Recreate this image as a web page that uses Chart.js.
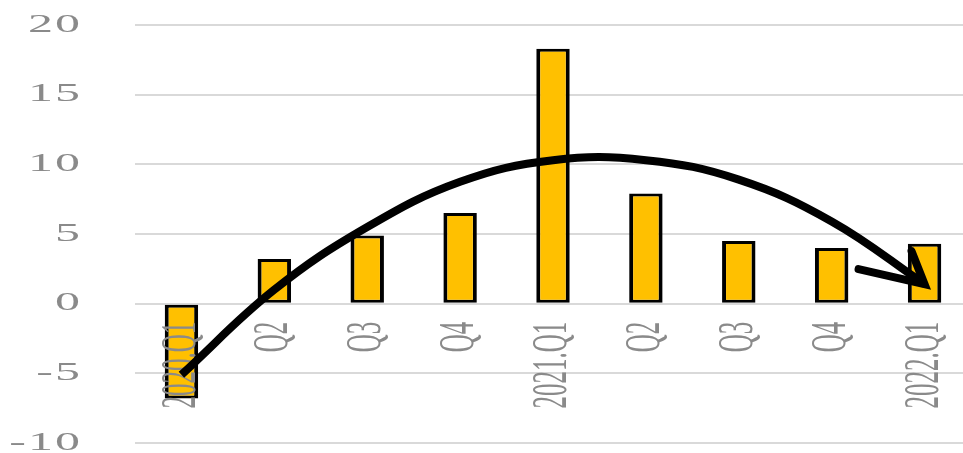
<!DOCTYPE html>
<html>
<head>
<meta charset="utf-8">
<script src="https://cdn.jsdelivr.net/npm/chart.js@4/dist/chart.umd.min.js"></script>
<style>
    body { margin: 0; background: #fff; overflow: hidden; }
    #wrap { width: 975px; height: 453px; position: relative; }
</style>
</head>
<body>
<div id="wrap"><canvas id="grafico"></canvas></div>
<script>
const categories = ['2020.Q1', 'Q2', 'Q3', 'Q4', '2021.Q1', 'Q2', 'Q3', 'Q4', '2022.Q1'];
const growthValues = [-6.8, 3.2, 4.9, 6.5, 18.3, 7.9, 4.5, 4.0, 4.3];
const trendCurve = [-5.1, 1.0, 5.5, 8.75, 10.3, 10.3, 8.9, 5.9, 1.4];
const yTicks = [-10, -5, 0, 5, 10, 15, 20];

const textColor = '#8a8a8a';
const stretch = 2.0; // the source image is wide-stretched

// y tick labels, drawn stretched
const yLabels = {
    id: 'yLabels',
    afterDraw(chart) {
        const ctx = chart.ctx;
        const y = chart.scales.y;
        ctx.save();
        ctx.fillStyle = textColor;
        ctx.font = '25px "Liberation Serif"';
        ctx.letterSpacing = '1px';
        ctx.textAlign = 'right';
        ctx.textBaseline = 'middle';
        yTicks.forEach(function (v) {
            ctx.save();
            ctx.translate(82, y.getPixelForValue(v));
            ctx.scale(stretch, 1);
            ctx.fillText(String(v), 0, 0);
            ctx.restore();
        });
        ctx.restore();
    }
};

// category labels, rotated, hanging under the zero line
const xLabels = {
    id: 'xLabels',
    afterDatasetDraw(chart, args) {
        if (args.index !== 0) return;
        const ctx = chart.ctx;
        const x = chart.scales.x;
        const y0 = chart.scales.y.getPixelForValue(0) + 18;
        ctx.save();
        ctx.fillStyle = textColor;
        ctx.font = '25px "Liberation Serif"';
        ctx.textAlign = 'right';
        ctx.textBaseline = 'middle';
        categories.forEach(function (c, i) {
            ctx.save();
            ctx.translate(x.getPixelForValue(i), y0);
            ctx.scale(stretch, 1);
            ctx.rotate(-Math.PI / 2);
            ctx.fillText(c, 0, 0);
            ctx.restore();
        });
        ctx.restore();
    }
};

// arrow head at the end of the trend curve
const arrowHead = {
    id: 'arrowHead',
    afterDatasetsDraw(chart) {
        const pts = chart.getDatasetMeta(1).data;
        const tip = pts[pts.length - 1];
        const ctx = chart.ctx;
        ctx.save();
        ctx.strokeStyle = '#000';
        ctx.lineWidth = 8;
        ctx.lineCap = 'round';
        ctx.beginPath();
        ctx.moveTo(tip.x - 66, tip.y - 15);
        ctx.lineTo(tip.x, tip.y);
        ctx.lineTo(tip.x - 13, tip.y - 33);
        ctx.stroke();
        ctx.restore();
    }
};

const grafico = new Chart(document.getElementById('grafico').getContext('2d'), {
    type: 'bar',
    data: {
        labels: categories,
        datasets: [{
            type: 'bar',
            data: growthValues,
            backgroundColor: '#FFC000',
            borderColor: '#000',
            borderWidth: { left: 4, right: 4, top: 3, bottom: 3 },
            borderSkipped: false,
            barPercentage: 0.6,
            categoryPercentage: 0.6,
            order: 2
        }, {
            type: 'line',
            data: trendCurve,
            borderColor: '#000',
            borderWidth: 8,
            pointRadius: 0,
            tension: 0.4,
            fill: false,
            order: 1
        }]
    },
    options: {
        responsive: true,
        maintainAspectRatio: false,
        animation: false,
        layout: {
            padding: { left: 135, top: 25, bottom: 10, right: 4 }
        },
        scales: {
            x: {
                display: false
            },
            y: {
                min: -10,
                max: 20,
                ticks: { display: false, stepSize: 5 },
                grid: { color: '#d9d9d9', lineWidth: 2, drawTicks: false },
                border: { display: false },
                afterFit: function (scale) { scale.width = 0; }
            }
        },
        plugins: {
            legend: { display: false },
            tooltip: { enabled: false }
        }
    },
    plugins: [yLabels, xLabels, arrowHead]
});
</script>
</body>
</html>
